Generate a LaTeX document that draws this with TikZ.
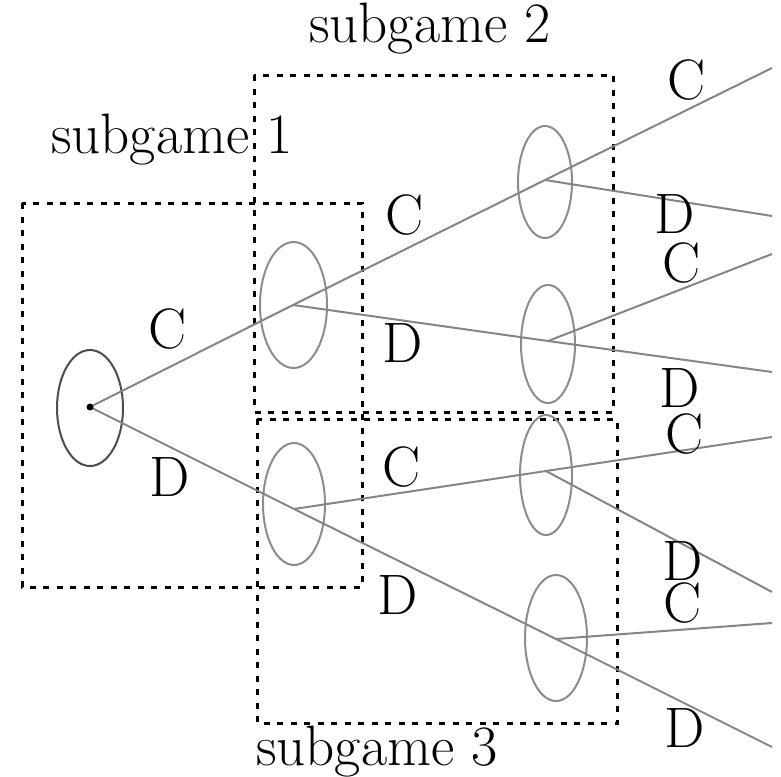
\documentclass[tikz,border=0pt]{standalone}
\usetikzlibrary{shapes.geometric}
\begin{document}
\begin{tikzpicture}[x=1pt,y=-1pt,
  branch/.style={draw=black!48, line width=2pt},
  infoset/.style={ellipse, draw=black!45, line width=2pt, inner sep=0pt},
  rootset/.style={ellipse, draw=black!70, line width=2pt, inner sep=0pt},
  subbox/.style={draw=black, line width=3pt, dash pattern=on 6pt off 7.5pt},
  lab/.style={font=\fontsize{57}{66}\selectfont, inner sep=0pt},
  sublab/.style={font=\fontsize{57}{66}\selectfont, inner sep=0pt, anchor=base}]
\useasboundingbox (0,0) rectangle (781,776);

% subgame boxes
\draw[subbox] (22,203) rectangle (362,587);
\draw[subbox] (254,75) rectangle (613,412);
\draw[subbox] (257,419) rectangle (617,723);

% information sets
\node[rootset, minimum width=66pt, minimum height=116pt] (eR) at (90,408) {};
\node[infoset, minimum width=67pt, minimum height=126pt] (eA) at (293.5,305) {};
\node[infoset, minimum width=62pt, minimum height=122pt] (eB) at (294,504) {};
\node[infoset, minimum width=54pt, minimum height=112pt] (eAC) at (545,182) {};
\node[infoset, minimum width=54pt, minimum height=118pt] (eAD) at (548,344) {};
\node[infoset, minimum width=52pt, minimum height=120pt] (eBC) at (546,475) {};
\node[infoset, minimum width=62pt, minimum height=126pt] (eBD) at (556,638) {};

% decision points
\coordinate (R) at (90,407);
\coordinate (A) at (293,305);
\coordinate (B) at (294,509);
\coordinate (AC) at (545,180);
\coordinate (AD) at (548,341);
\coordinate (BC) at (546,471);
\coordinate (BD) at (556,639);
% terminal ends
\coordinate (t1) at (772,68);
\coordinate (t2) at (772,216);
\coordinate (t3) at (772,254);
\coordinate (t4) at (772,372);
\coordinate (t5) at (772,437);
\coordinate (t6) at (772,592);
\coordinate (t7) at (772,623);
\coordinate (t8) at (772,747);

% branches
\draw[branch] (R) -- (A) -- (AC) -- (t1);
\draw[branch] (A) -- (AD) -- (t4);
\draw[branch] (R) -- (B) -- (BD) -- (t8);
\draw[branch] (B) -- (BC) -- (t5);
\draw[branch] (AC) -- (t2);
\draw[branch] (AD) -- (t3);
\draw[branch] (BC) -- (t6);
\draw[branch] (BD) -- (t7);

\fill[black] (R) circle (3.5pt);

% labels
\node[sublab] (s1) at (172,153) {subgame 1};
\node[sublab] (s2) at (430,43) {subgame 2};
\node[sublab] (s3) at (377,765) {subgame 3};

\node[lab] (lRC) at (168,329) {C};
\node[lab] (lRD) at (170,477) {D};
\node[lab] (lAC) at (405,215) {C};
\node[lab] (lAD) at (403,343) {D};
\node[lab] (lBC) at (402,467) {C};
\node[lab] (lBD) at (398,595) {D};

\node[lab] (l1) at (687,80) {C};
\node[lab] (l2) at (675,214) {D};
\node[lab] (l3) at (682,263) {C};
\node[lab] (l4) at (680,388) {D};
\node[lab] (l5) at (685,434) {C};
\node[lab] (l6) at (683,561) {D};
\node[lab] (l7) at (683,603) {C};
\node[lab] (l8) at (685,728) {D};
\end{tikzpicture}
\end{document}
